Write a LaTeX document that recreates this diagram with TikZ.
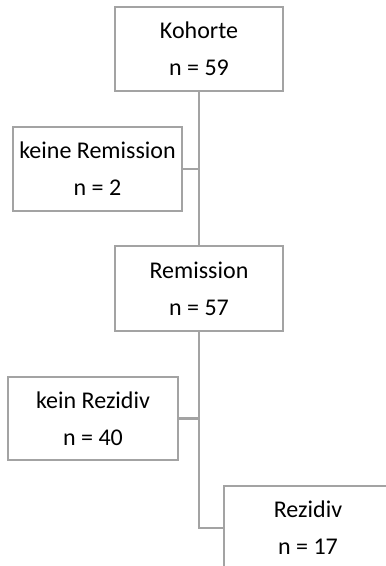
\documentclass[tikz,border=0pt]{standalone}
\usepackage{fontspec}
\setmainfont{Carlito}
\definecolor{boxgray}{HTML}{A3A3A3}
\tikzset{
  flowbox/.style={draw=boxgray, line width=2.4pt, fill=white, rectangle,
    minimum width=168pt, minimum height=84pt, inner sep=0pt, align=center,
    font=\fontsize{24}{36.7}\selectfont, text=black},
  conn/.style={draw=boxgray, line width=2.4pt}
}
\begin{document}
\begin{tikzpicture}[x=1pt,y=-1pt]
\useasboundingbox (0,0) rectangle (386,566);
\clip (0,0) rectangle (386,566);
\node[flowbox] (koh) at (199,49) {Kohorte\\n = 59};
\node[flowbox, minimum width=169pt] (krem) at (97.5,169) {keine Remission\\n = 2};
\node[flowbox, minimum height=85pt] (rem) at (199,288.5) {Remission\\n = 57};
\node[flowbox, minimum width=170pt, minimum height=83pt] (krez) at (93,418.5) {kein Rezidiv\\n = 40};
\node[flowbox] (rez) at (308,528) {Rezidiv\\n = 17};
\draw[conn] (koh.south) -- (rem.north);
\draw[conn] (krem.east) -- (krem.east -| koh.south);
\draw[conn] (rem.south) -- (rez.west -| rem.south) -- (rez.west);
\draw[conn] (krez.east) -- (krez.east -| rem.south);
\end{tikzpicture}
\end{document}
